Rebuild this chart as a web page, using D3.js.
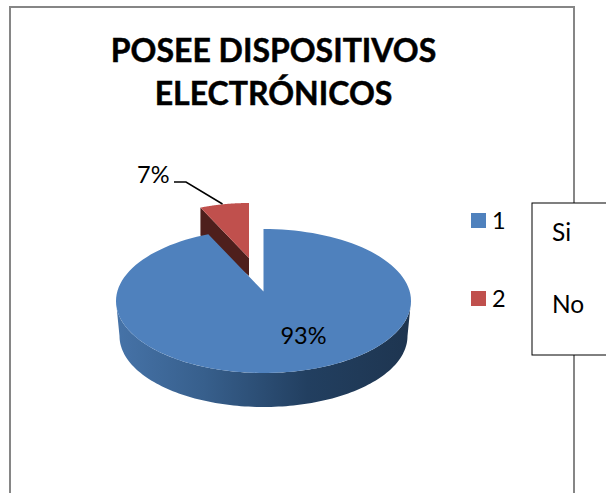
<!DOCTYPE html>
<html>
<head>
<meta charset="utf-8">
<script src="https://cdn.jsdelivr.net/npm/d3@7"></script>
<style>
  html, body { margin: 0; padding: 0; background: #fff; overflow: hidden; }
  svg { display: block; }
  text { font-family: Lato, "Open Sans", sans-serif; fill: #000; }
</style>
</head>
<body>
<svg id="chart" width="606" height="493"></svg>
<script>
const CATEGORIES = ['1', '2'];
const VALUES = [93, 7];
const PERCENT_LABELS = ['93%', '7%'];
const BOX_LABELS = ['Si', 'No'];
const TITLE_LINES = ['POSEE DISPOSITIVOS', 'ELECTRÓNICOS'];

const BLUE = '#4f81bd';
const RED = '#c0504d';
const RED_DARK = '#4e1f1c';
const FRAME = '#868686';

// Pie geometry: top face ellipse, apex sits above its centre (perspective)
const CX = 263.5;
const CY = 301;
const RX = 147.5;
const RY = 72;
const APEX_Y = 291.5;
const LOWER = { cy: 336, rx: 144, ry: 71 };
const EXPLODE = { x: 249, y: 258, scale: 0.88, depthApex: 18, depthRim: 28 };

const svg = d3.select('#chart');
const line = d3.line();

// Cast a ray from the apex to the rim of the top ellipse
function rimPoint(angle) {
  const dx = Math.sin(angle) * RX;
  const dy = -Math.cos(angle) * RY;
  const oy = APEX_Y - CY;
  const a = (dx * dx) / (RX * RX) + (dy * dy) / (RY * RY);
  const b = (2 * oy * dy) / (RY * RY);
  const c = (oy * oy) / (RY * RY) - 1;
  const s = (-b + Math.sqrt(b * b - 4 * a * c)) / (2 * a);
  return [CX + s * dx, APEX_Y + s * dy];
}

function rimPoints(start, end) {
  const n = 120;
  return d3.range(n + 1).map(i => rimPoint(start + ((end - start) * i) / n));
}

const arcs = d3.pie().sort(null)(VALUES);
const color = d3.scaleOrdinal().domain(CATEGORIES).range([BLUE, RED]);

// frame
svg.append('path')
  .attr('d', line([[10, 493], [10, 7], [574, 7], [574, 493]]))
  .attr('fill', 'none')
  .attr('stroke', FRAME)
  .attr('stroke-width', 2);

// title
svg.selectAll('.title')
  .data(TITLE_LINES)
  .enter()
  .append('text')
  .attr('class', 'title')
  .attr('x', 273.5)
  .attr('y', (d, i) => 62 + i * 43)
  .attr('text-anchor', 'middle')
  .attr('font-size', 32)
  .attr('font-weight', 700)
  .attr('stroke', '#000')
  .attr('stroke-width', 0.5)
  .text(d => d);

// side wall gradient
const grad = svg.append('defs').append('linearGradient')
  .attr('id', 'side')
  .attr('gradientUnits', 'userSpaceOnUse')
  .attr('x1', CX - RX)
  .attr('x2', CX + RX)
  .attr('y1', 0)
  .attr('y2', 0);
[[0, '#4673a8'], [0.3, '#375f8c'], [0.65, '#223f60'], [1, '#1e3550']].forEach(s => {
  grad.append('stop').attr('offset', s[0]).attr('stop-color', s[1]);
});

const wallAngles = d3.range(0, 121).map(i => (Math.PI * i) / 120);
const wallTop = wallAngles.map(t => [CX + RX * Math.cos(t), CY + RY * Math.sin(t)]);
const wallBottom = wallAngles.map(t => [
  CX + LOWER.rx * Math.cos(t),
  LOWER.cy + LOWER.ry * Math.sin(t),
]).reverse();

svg.append('path')
  .attr('d', `${line(wallTop.concat(wallBottom))}Z`)
  .attr('fill', 'url(#side)');

// exploded slice, drawn first so the big slice covers its foot
const small = arcs[1];
const shift = p => [
  EXPLODE.x + (p[0] - CX) * EXPLODE.scale,
  EXPLODE.y + (p[1] - APEX_Y) * EXPLODE.scale,
];
const smallRim = rimPoints(small.startAngle, small.endAngle).map(shift);
const smallApex = [EXPLODE.x, EXPLODE.y];
const rimLeft = smallRim[0];

svg.append('path')
  .attr('d', `${line([
    rimLeft,
    smallApex,
    [smallApex[0], smallApex[1] + EXPLODE.depthApex],
    [rimLeft[0], rimLeft[1] + EXPLODE.depthRim],
  ])}Z`)
  .attr('fill', RED_DARK);

svg.append('path')
  .attr('d', `${line([smallApex].concat(smallRim))}Z`)
  .attr('fill', color(CATEGORIES[1]));

// big slice top face
const big = arcs[0];
svg.append('path')
  .attr('d', `${line([[CX, APEX_Y]].concat(rimPoints(big.startAngle, big.endAngle)))}Z`)
  .attr('fill', color(CATEGORIES[0]));

// percent labels
svg.append('text')
  .attr('x', 303.5)
  .attr('y', 344)
  .attr('text-anchor', 'middle')
  .attr('font-size', 23.5)
  .text(PERCENT_LABELS[0]);

svg.append('text')
  .attr('x', 137)
  .attr('y', 183)
  .attr('font-size', 23.5)
  .text(PERCENT_LABELS[1]);

svg.append('path')
  .attr('d', line([[174, 182], [186, 182], [222.5, 204]]))
  .attr('fill', 'none')
  .attr('stroke', '#000')
  .attr('stroke-width', 1.5);

// legend
const legendY = d3.scalePoint().domain(CATEGORIES).range([213, 291]);
const legend = svg.selectAll('.legend')
  .data(CATEGORIES)
  .enter()
  .append('g')
  .attr('class', 'legend')
  .attr('transform', d => `translate(471,${legendY(d)})`);

legend.append('rect')
  .attr('width', 15)
  .attr('height', 15)
  .attr('fill', d => color(d));

legend.append('text')
  .attr('x', 21)
  .attr('y', 16)
  .attr('font-size', 23.5)
  .text(d => d);

// text box over the frame
svg.append('rect')
  .attr('x', 532)
  .attr('y', 203)
  .attr('width', 90)
  .attr('height', 152)
  .attr('fill', '#fff')
  .attr('stroke', '#000')
  .attr('stroke-width', 1);

svg.selectAll('.box-label')
  .data(BOX_LABELS)
  .enter()
  .append('text')
  .attr('class', 'box-label')
  .attr('x', 552)
  .attr('y', (d, i) => 241 + i * 72)
  .attr('font-size', 24.5)
  .text(d => d);
</script>
</body>
</html>
